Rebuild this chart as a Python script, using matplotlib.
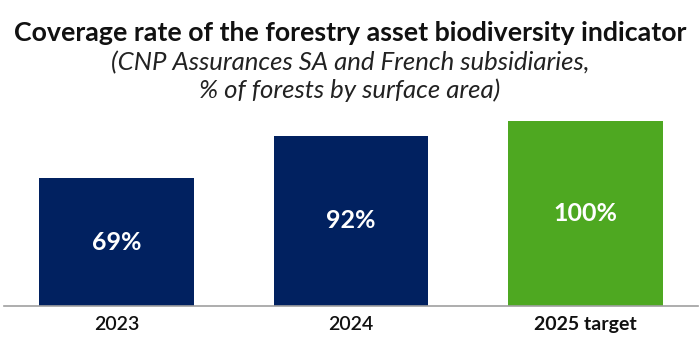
import matplotlib
matplotlib.use('Agg')
import matplotlib.pyplot as plt

# data
categories = ['2023', '2024', '2025 target']
values = [69, 92, 100]
value_labels = ['69%', '92%', '100%']
bar_colors = ['#012160', '#012160', '#4ea821']

plt.rcParams['font.family'] = ['Lato', 'DejaVu Sans']

fig = plt.figure(figsize=(7, 3.59), dpi=100, facecolor='white')
ax = fig.add_axes([4 / 700, 53 / 359, 694 / 700, 185 / 359])

x = range(len(categories))
bars = ax.bar(x, values, width=0.66, color=bar_colors)

for b, v, lab in zip(bars, values, value_labels):
    ax.text(b.get_x() + b.get_width() / 2, v / 2, lab, ha='center', va='center',
            color='white', fontsize=18, fontweight='bold')

ax.set_xlim(-0.48, 2.48)
ax.set_ylim(0, 100)
ax.set_xticks(list(x))
ax.set_xticklabels(categories, fontsize=14)
for t, w in zip(ax.get_xticklabels(), ['semibold', 'semibold', 'bold']):
    t.set_fontweight(w)
ax.tick_params(axis='x', length=0, pad=7, colors='#111111')
ax.set_yticks([])
for s in ['top', 'right', 'left']:
    ax.spines[s].set_visible(False)
ax.spines['bottom'].set_color('#a0a0a0')
ax.spines['bottom'].set_linewidth(1.2)

fig.text(0.5, 1 - 33 / 359, 'Coverage rate of the forestry asset biodiversity indicator',
         ha='center', va='center', fontsize=19.3, fontweight='bold', color='#111111')
fig.text(0.5, 1 - 63 / 359, '(CNP Assurances SA and French subsidiaries,',
         ha='center', va='center', fontsize=18.5, fontstyle='italic', fontweight='normal',
         color='#222222')
fig.text(0.5, 1 - 90 / 359, '% of forests by surface area)',
         ha='center', va='center', fontsize=18.5, fontstyle='italic', fontweight='normal',
         color='#222222')

fig.savefig('out.png', dpi=100)
